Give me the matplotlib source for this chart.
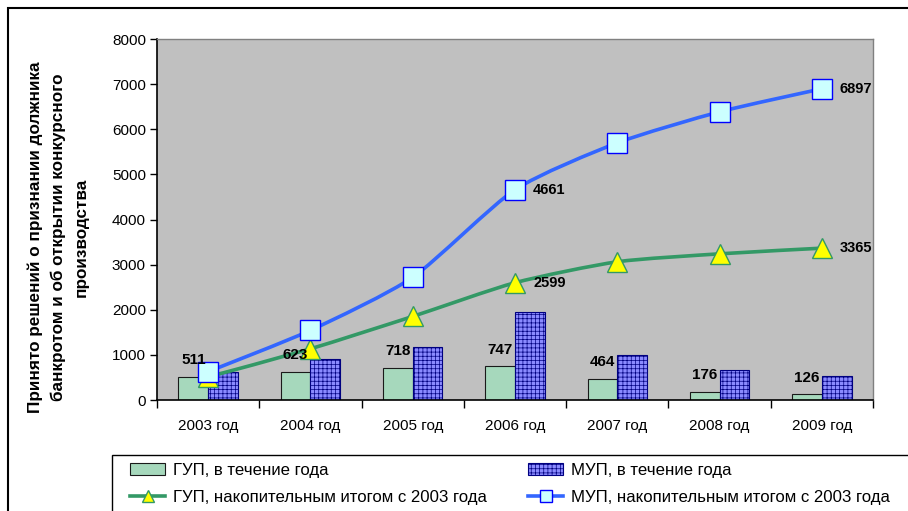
import matplotlib
matplotlib.use('Agg')
import matplotlib.pyplot as plt
from matplotlib.patches import Rectangle, PathPatch
from matplotlib.path import Path
from matplotlib.lines import Line2D
import numpy as np

# данные
anos = ["2003 год", "2004 год", "2005 год", "2006 год", "2007 год", "2008 год", "2009 год"]
gup_ano = [511, 623, 718, 747, 464, 176, 126]
mup_ano = [628, 916, 1175, 1945, 1005, 660, 540]
gup_acum = [511, 1134, 1852, 2599, 3063, 3239, 3365]
mup_acum = [628, 1544, 2719, 4661, 5698, 6386, 6897]
rotulos_gup = [0, 1, 2, 3, 4, 5, 6]      # índices com rótulo nas barras ГУП
rotulos_linha = [3, 6]                   # índices com rótulo nas linhas

plt.rcParams['font.family'] = ['Liberation Sans', 'DejaVu Sans']
plt.rcParams['hatch.color'] = 'white'
plt.rcParams['hatch.linewidth'] = 0.5


def curva_suave(xs, ys, k=1 / 9):
    # linha suavizada (Catmull-Rom -> Bezier, tensão reduzida)
    p = np.column_stack([xs, ys]).astype(float)
    verts = [p[0]]
    codes = [Path.MOVETO]
    n = len(p)
    for i in range(n - 1):
        p0 = p[i - 1] if i > 0 else p[i]
        p3 = p[i + 2] if i + 2 < n else p[i + 1]
        c1 = p[i] + (p[i + 1] - p0) * k
        c2 = p[i + 1] - (p3 - p[i]) * k
        verts += [c1, c2, p[i + 1]]
        codes += [Path.CURVE4] * 3
    return Path(verts, codes)


W, H = 908, 511
fig = plt.figure(figsize=(W / 100, H / 100), dpi=100)
ax = fig.add_axes([157 / W, 1 - 400 / H, (873 - 157) / W, (400 - 39) / H])
ax.set_facecolor('#C0C0C0')

x = np.arange(len(anos))
larg = 0.29
b1 = ax.bar(x - larg / 2, gup_ano, larg, color='#A6D8BC', edgecolor='#1a1a1a', linewidth=0.8,
            zorder=2)
b2 = ax.bar(x + larg / 2, mup_ano, larg, color='#8A8AFF', edgecolor='#000080', linewidth=0.8,
            hatch='++++', zorder=2)

cor_g, cor_m = '#339966', '#3366FF'
ax.add_patch(PathPatch(curva_suave(x, gup_acum), fill=False, edgecolor=cor_g, lw=2.6, zorder=3))
ax.add_patch(PathPatch(curva_suave(x, mup_acum), fill=False, edgecolor=cor_m, lw=2.6, zorder=4))
ax.plot(x, gup_acum, '^', ms=15, mfc='#FFFF00', mec=cor_g, mew=1.0, zorder=3.5)
ax.plot(x, mup_acum, 's', ms=14, mfc='#CCFFFF', mec='#0000FF', mew=1.0, zorder=4.5)

for i in rotulos_gup:
    ax.annotate(str(gup_ano[i]), (x[i] - larg / 2, gup_ano[i]), xytext=(0, 7),
                textcoords='offset points', ha='center', va='bottom',
                fontsize=11, fontweight='bold', zorder=5)
for i in rotulos_linha:
    ax.annotate(str(gup_acum[i]), (x[i], gup_acum[i]), xytext=(13, 0),
                textcoords='offset points', ha='left', va='center',
                fontsize=10.5, fontweight='bold', zorder=5)
    ax.annotate(str(mup_acum[i]), (x[i], mup_acum[i]), xytext=(13, 0),
                textcoords='offset points', ha='left', va='center',
                fontsize=10.5, fontweight='bold', zorder=5)

ax.set_xlim(-0.5, len(anos) - 0.5)
ax.set_ylim(0, 8000)
ax.set_yticks(range(0, 8001, 1000))
ax.set_xticks(np.arange(-0.5, len(anos), 1.0))
ax.set_xticklabels([])
ax.set_xticks(x, minor=True)
ax.set_xticklabels(anos, minor=True)
ax.tick_params(axis='x', which='major', direction='out', length=6, width=1, color='black')
ax.tick_params(axis='x', which='minor', length=0, pad=14, labelsize=11)
ax.tick_params(axis='y', direction='out', length=5, width=1, labelsize=11, pad=3)

for s in ['top', 'right']:
    ax.spines[s].set_color('#808080')
    ax.spines[s].set_linewidth(1)
ax.spines['left'].set_color('black')
ax.spines['bottom'].set_color('black')
ax.spines['left'].set_linewidth(1.2)
ax.spines['bottom'].set_linewidth(1.2)

fig.text(58 / W, 1 - 237 / H,
         'Принято решений о признании должника\nбанкротом и об открытии конкурсного\nпроизводства',
         rotation=90, ha='center', va='center', multialignment='center',
         fontsize=12.3, fontweight='bold', linespacing=1.6)

# moldura externa e caixa da legenda
fig.patches.append(Rectangle((8 / W, -0.1), 1.2, 1 - 8 / H + 0.1, transform=fig.transFigure,
                             fill=False, edgecolor='black', linewidth=1.5))
fig.patches.append(Rectangle((112 / W, -0.1), 1.2, 1 - 455 / H + 0.1, transform=fig.transFigure,
                             fill=False, edgecolor='black', linewidth=1.0))

h_gl = Line2D([], [], color=cor_g, lw=2.6, marker='^', ms=9, mfc='#FFFF00', mec=cor_g)
h_ml = Line2D([], [], color=cor_m, lw=2.6, marker='s', ms=8, mfc='#CCFFFF', mec='#0000FF')
opts = dict(loc='upper left', frameon=False, fontsize=12.1, handlelength=2.1, handleheight=0.7,
            labelspacing=0.72, handletextpad=0.45, borderpad=0, borderaxespad=0)
fig.legend([b1, h_gl], ['ГУП, в течение года', 'ГУП, накопительным итогом с 2003 года'],
           bbox_to_anchor=(130 / W, 1 - 463 / H), **opts)
fig.legend([b2, h_ml], ['МУП, в течение года', 'МУП, накопительным итогом с 2003 года'],
           bbox_to_anchor=(528 / W, 1 - 463 / H), **opts)

fig.savefig('out.png', dpi=100)
